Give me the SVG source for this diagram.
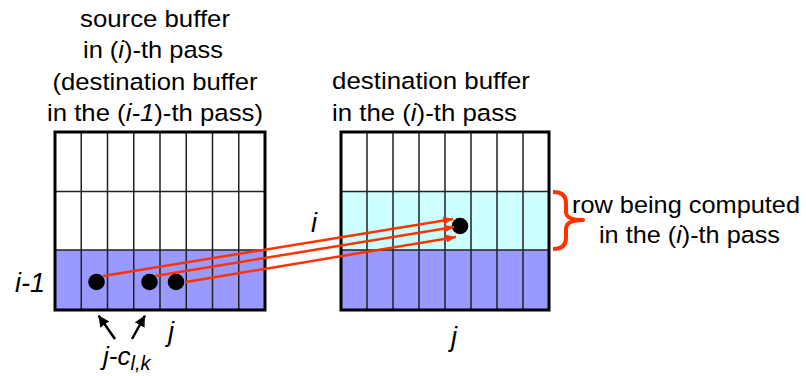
<svg xmlns="http://www.w3.org/2000/svg" width="806" height="376" viewBox="0 0 806 376">
<defs>
<marker id="redhead" viewBox="0 0 10 8" refX="10" refY="4" markerWidth="10" markerHeight="8" markerUnits="userSpaceOnUse" orient="auto">
<path d="M0,0 L10,4 L0,8 Z" fill="#ff3300"/>
</marker>
<marker id="blackhead" viewBox="0 0 10 10" refX="10" refY="5" markerWidth="11" markerHeight="11" markerUnits="userSpaceOnUse" orient="auto">
<path d="M0,0 L10,5 L0,10 Z" fill="#000"/>
</marker>
</defs>
<style>
text { font-family: "Liberation Sans", Arial, Helvetica, sans-serif; font-size: 24.5px; fill: #000; }
.it { font-style: italic; }
.big { font-size: 27px; font-style: italic; }
.jc { font-size: 26px; font-style: italic; }
.sub { font-size: 20px; font-style: italic; }
.thin { stroke: #222; stroke-width: 1.5; fill: none; }
.border { stroke: #000; stroke-width: 3; fill: none; }
.red { stroke: #ff3300; stroke-width: 2.5; fill: none; }
.blk { stroke: #000; stroke-width: 2.5; fill: none; }
.dot { fill: #000; }
</style>
<rect width="806" height="376" fill="#fff"/>

<g id="source-buffer">
<text x="155" y="27" text-anchor="middle" textLength="150" lengthAdjust="spacingAndGlyphs">source buffer</text>
<text x="153" y="58" text-anchor="middle" textLength="140" lengthAdjust="spacingAndGlyphs">in (<tspan class="it">i</tspan>)-th pass</text>
<text x="155" y="90" text-anchor="middle" textLength="205" lengthAdjust="spacingAndGlyphs">(destination buffer</text>
<text x="155" y="121" text-anchor="middle" textLength="216" lengthAdjust="spacingAndGlyphs">in the (<tspan class="it">i-1</tspan>)-th pass)</text>
<rect x="55" y="250" width="210" height="60" fill="#9999ff"/>
<path class="thin" d="M81.25,132V310M107.5,132V310M133.75,132V310M160,132V310M186.25,132V310M212.5,132V310M238.75,132V310M55,191.5H265M55,250H265"/>
<rect class="border" x="55" y="132" width="210" height="178"/>
<circle class="dot" cx="96.5" cy="282" r="8.3"/>
<circle class="dot" cx="149.5" cy="282" r="8.3"/>
<circle class="dot" cx="176" cy="282" r="8.3"/>
<text class="big" x="15" y="292">i-1</text>
<text class="big" x="168" y="341">j</text>
<text class="jc" x="103" y="365">j-c<tspan class="sub" dy="5">l,k</tspan></text>
</g>

<g id="destination-buffer">
<text x="332" y="89" textLength="198" lengthAdjust="spacingAndGlyphs">destination buffer</text>
<text x="332" y="121" textLength="185" lengthAdjust="spacingAndGlyphs">in the (<tspan class="it">i</tspan>)-th pass</text>
<rect x="341" y="191.5" width="208" height="58.5" fill="#ccffff"/>
<rect x="341" y="250" width="208" height="60" fill="#9999ff"/>
<path class="thin" d="M367,132V310M393,132V310M419,132V310M445,132V310M471,132V310M497,132V310M523,132V310M341,191.5H549M341,250H549"/>
<rect class="border" x="341" y="132" width="208" height="178"/>
<circle class="dot" cx="460" cy="226" r="8.3"/>
<text class="big" x="311" y="232">i</text>
<text class="big" x="451" y="346">j</text>
</g>

<g id="row-label">
<path d="M553,192 Q566,192 566,203 L566,212 Q566,220 583,220 Q566,220 566,229 L566,238 Q566,249 553,249" fill="none" stroke="#ff3300" stroke-width="4" stroke-linejoin="round"/>
<text x="686" y="213" text-anchor="middle" textLength="228" lengthAdjust="spacingAndGlyphs">row being computed</text>
<text x="689.5" y="243" text-anchor="middle" textLength="181" lengthAdjust="spacingAndGlyphs">in the (<tspan class="it">i</tspan>)-th pass</text>
</g>

<g id="connectors">
<path class="red" d="M103,276 L453,219" marker-end="url(#redhead)"/>
<path class="red" d="M155,276 L454,227" marker-end="url(#redhead)"/>
<path class="red" d="M186,282 L456,237" marker-end="url(#redhead)"/>
<path class="blk" d="M115,339 L98.5,315.5" marker-end="url(#blackhead)"/>
<path class="blk" d="M132,339 L145,315.5" marker-end="url(#blackhead)"/>
</g>
</svg>
